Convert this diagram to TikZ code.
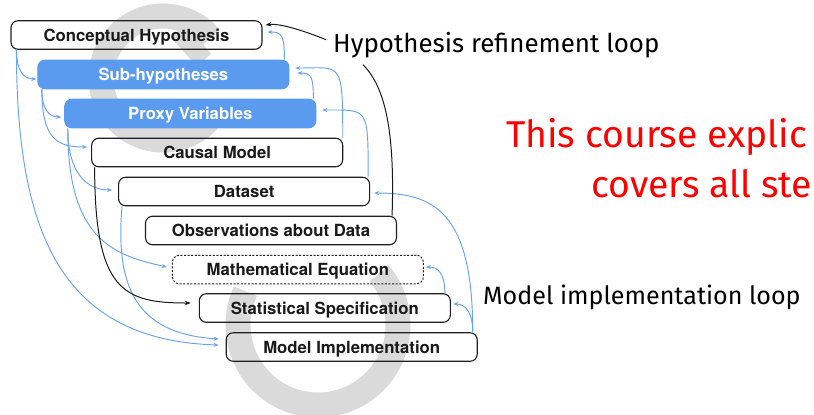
\documentclass[tikz,border=0pt]{standalone}
\usepackage{fontspec}
\setmainfont{Fira Sans}
\newfontfamily\boxfont{TeX Gyre Heros}
\usetikzlibrary{arrows.meta,calc}
\definecolor{stepblue}{RGB}{90,155,240}
\definecolor{linkblue}{RGB}{104,163,240}
\definecolor{claimred}{RGB}{255,0,0}
\definecolor{wmgray}{RGB}{218,218,218}

\begin{document}
\begin{tikzpicture}[x=1bp,y=-1bp,
  stepbox/.style={draw=black!88, line width=1.1bp, rounded corners=7bp,
    minimum width=251bp, minimum height=28.5bp, inner sep=0pt,
    text height=12.5bp, text depth=0bp,
    font=\boxfont\bfseries\fontsize{16.8}{20}\selectfont, text=black!90},
  filledbox/.style={stepbox, draw=stepblue, fill=stepblue, text=white},
  dottedbox/.style={stepbox, line width=1bp, dash pattern=on 2bp off 1.6bp},
  flow/.style={draw=linkblue, line width=0.95bp, -{Stealth[length=5bp,width=4bp]}},
  loopline/.style={draw=black!90, line width=1bp},
  looparrow/.style={loopline, -{Stealth[length=6bp,width=4.5bp]}},
  looplabel/.style={anchor=base west, inner sep=0pt, font=\fontsize{26}{30}\selectfont},
  claim/.style={anchor=base west, inner sep=0pt, text=claimred, font=\fontsize{37.5}{45}\selectfont},
  wmstroke/.style={draw=wmgray, line width=25bp, line cap=butt},
]
\useasboundingbox (0,0) rectangle (814,414);
\clip (0,0) rectangle (814,414);
\fill[white] (0,0) rectangle (814,414);

% background watermark rings
\draw[wmstroke] (163,78) ++(-40:62) arc[start angle=-40, end angle=-330, radius=62];
\draw[wmstroke, line width=19bp] (178,31) -- (204,60);
\draw[wmstroke] (318,325) ++(-40:80) arc[start angle=-40, end angle=205, radius=80];

% the nine workflow steps
\node[stepbox]   (CH) at (136.5,35)  {Conceptual Hypothesis};
\node[filledbox] (SH) at (163.4,74.5){Sub-hypotheses};
\node[filledbox] (PV) at (190.3,113.5){Proxy Variables};
\node[stepbox]   (CM) at (217.2,152.5){Causal Model};
\node[stepbox]   (DS) at (244.1,191.5){Dataset};
\node[stepbox]   (OD) at (271.0,230.5){Observations about Data};
\node[dottedbox] (ME) at (297.9,269.5){Mathematical Equation};
\node[stepbox]   (SS) at (324.8,308) {Statistical Specification};
\node[stepbox]   (MI) at (351.7,347) {Model Implementation};

% loop labels and claim
\node[looplabel] (hyp) at (333,52)  {Hypothesis refinement loop};
\node[looplabel, font=\fontsize{25.2}{30}\selectfont] (mil) at (483,304) {Model implementation loop};
\node[claim] (claim1) at (506,147) {This course explic};
\node[claim] (claim2) at (591,197) {covers all ste};

% forward links on the left
\draw[flow] ($(CH.south west)+(6,0)$) .. controls +(0,22) and +(-12,0) .. ($(SH.west)+(-1,4.5)$);
\draw[flow] ($(CH.south west)+(6,0)$) .. controls +(0,181) and +(-159,-5) .. ($(MI.west)+(-7,-2)$);
\draw[flow] ($(SH.south west)+(4.5,0)$) .. controls +(0,20) and +(-12,0) .. ($(PV.west)+(-3,3.5)$);
\draw[flow] ($(SH.south west)+(4.5,0)$) .. controls +(0,50) and +(-30,0) .. ($(CM.west)+(-4,-5.5)$);
\draw[flow] ($(PV.south west)+(3.5,0)$) .. controls +(0,45) and +(-25,0) .. ($(DS.west)+(-6,-1.5)$);
\draw[flow] ($(PV.south west)+(3.5,0)$) .. controls +(0,110) and +(-55,-12) .. ($(ME.west)+(-5,-2.5)$);
\draw[flow] ($(DS.south west)+(4,0)$) .. controls +(-8,90) and +(-75,-5) .. ($(MI.west)+(-7,-8)$);
\draw[looparrow] ($(CM.south west)+(3.5,0)$) .. controls +(0,124) and +(-67,0) .. ($(SS.west)+(-8,-5)$);

% feedback links on the right
\draw[flow] ($(SH.north east)+(-5,0)$) .. controls +(0,-25) and +(14,0) .. ($(CH.east)+(5,-3)$);
\draw[flow] ($(PV.north east)+(-3,0)$) .. controls +(0,-22) and +(14,0) .. ($(SH.east)+(8,-1.5)$);
\draw[flow] ($(CM.north east)+(-0.5,0)$) .. controls +(0,-78) and +(46,0) .. ($(SH.east)+(6,-6.5)$);
\draw[flow] ($(DS.north east)+(-2,0)$) .. controls +(0,-70) and +(46,0) .. ($(PV.east)+(6,-3.5)$);
\draw[flow] ($(MI.north east)+(-5,0)$) .. controls +(0,-120) and +(60,0) .. ($(DS.east)+(4,1.5)$);
\draw[flow] ($(MI.north east)+(-5,0)$) .. controls +(0,-20) and +(12,0) .. ($(SS.east)+(2.5,-4)$);
\draw[flow] ($(SS.north east)+(-6,0)$) .. controls +(0,-20) and +(12,0) .. ($(ME.east)+(2,-2.5)$);

% hypothesis refinement loop
\draw[looparrow] ($(hyp.west)+(-7,-5)$) .. controls +(-20,-8) and +(15,-2) .. ($(CH.east)+(3,-10)$);
\draw[loopline] ($(OD.north east)+(-5,0)$) .. controls +(3,-85) and +(22,22) .. ($(hyp.south west)+(30,7)$);
\end{tikzpicture}
\end{document}
